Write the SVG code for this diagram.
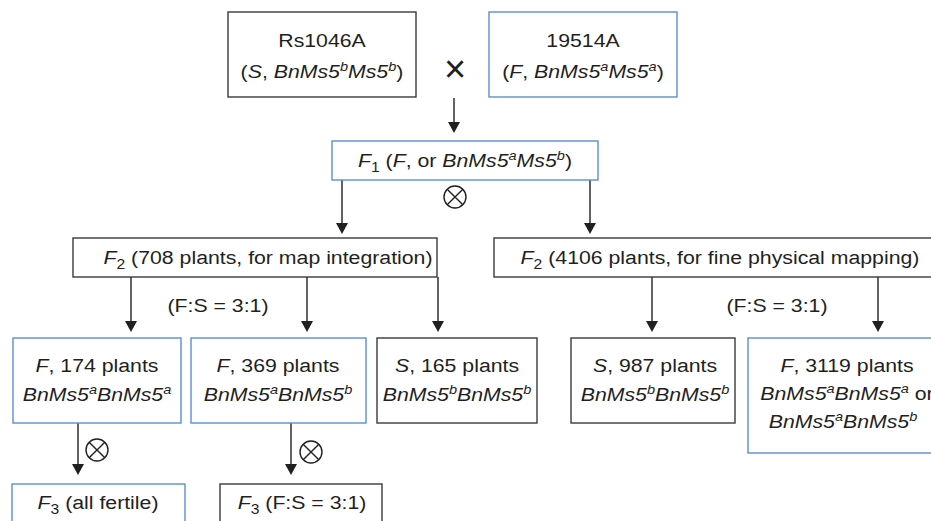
<svg xmlns="http://www.w3.org/2000/svg" width="931" height="521" viewBox="0 0 931 521">
<style>
.t{font-family:"Liberation Sans",Arial,Helvetica,sans-serif;font-size:19px;fill:#231f20;text-anchor:middle}
.i{font-style:italic}
.sp{font-size:13px}
.sb{font-size:14px}
.bx{fill:#fff;stroke:#3a3a3a;stroke-width:1.4}
.bl{fill:#fff;stroke:#5b8fcf;stroke-width:1.4}
.ln{stroke:#231f20;stroke-width:1.4;fill:none}
.ar{marker-end:url(#ah)}
</style>
<defs>
<marker id="ah" markerWidth="12" markerHeight="12" refX="9" refY="6" orient="auto" markerUnits="userSpaceOnUse"><path d="M0,0 L11,6 L0,12 Z" fill="#231f20"/></marker>
<g id="ox"><circle cx="0" cy="0" r="11" class="ln"/><path class="ln" d="M-7.8,-7.8 L7.8,7.8 M-7.8,7.8 L7.8,-7.8"/></g>
</defs>
<rect width="931" height="521" fill="#fff"/>

<g id="connectors">
<path class="ln ar" d="M454,98 V131"/>
<path class="ln ar" d="M342,180 V232"/>
<path class="ln ar" d="M590,180 V232"/>
<path class="ln ar" d="M131,277 V330"/>
<path class="ln ar" d="M307,277 V330"/>
<path class="ln ar" d="M438,277 V330"/>
<path class="ln ar" d="M652,277 V330"/>
<path class="ln ar" d="M878,277 V330"/>
<path class="ln ar" d="M78,423 V473"/>
<path class="ln ar" d="M291,423 V473"/>
<use href="#ox" x="455" y="197"/>
<use href="#ox" x="97" y="450"/>
<use href="#ox" x="311" y="452"/>
<text class="t" transform="translate(218,312) scale(1.12,1)">(F:S = 3:1)</text>
<text class="t" transform="translate(777,312) scale(1.12,1)">(F:S = 3:1)</text>
</g>

<g id="rs1046a">
<rect class="bx" x="228" y="12" width="188" height="85"/>
<text class="t" transform="translate(322,47) scale(1.12,1)">Rs1046A</text>
<text class="t" transform="translate(322,78) scale(1.12,1)">(<tspan class="i">S</tspan>, <tspan class="i">BnMs5</tspan><tspan class="i sp" dy="-7">b</tspan><tspan class="i" dy="7">Ms5</tspan><tspan class="i sp" dy="-7">b</tspan><tspan dy="7">)</tspan></text>
</g>

<text id="cross" class="t" style="font-size:38px" x="455" y="82">×</text>

<g id="n19514a">
<rect class="bl" x="489" y="12" width="188" height="85"/>
<text class="t" transform="translate(583,47) scale(1.12,1)">19514A</text>
<text class="t" transform="translate(583,78) scale(1.12,1)">(<tspan class="i">F</tspan>, <tspan class="i">BnMs5</tspan><tspan class="i sp" dy="-7">a</tspan><tspan class="i" dy="7">Ms5</tspan><tspan class="i sp" dy="-7">a</tspan><tspan dy="7">)</tspan></text>
</g>

<g id="f1">
<rect class="bl" x="332" y="141" width="266" height="39"/>
<text class="t" transform="translate(465,167) scale(1.12,1)"><tspan class="i">F</tspan><tspan class="sb" dy="5">1</tspan><tspan dy="-5"> (</tspan><tspan class="i">F</tspan>, or <tspan class="i">BnMs5</tspan><tspan class="i sp" dy="-7">a</tspan><tspan class="i" dy="7">Ms5</tspan><tspan class="i sp" dy="-7">b</tspan><tspan dy="7">)</tspan></text>
</g>

<g id="f2_map">
<rect class="bx" x="73" y="238" width="364" height="39"/>
<text class="t" transform="translate(268,264) scale(1.12,1)"><tspan class="i">F</tspan><tspan class="sb" dy="5">2</tspan><tspan dy="-5"> (708 plants, for map integration)</tspan></text>
</g>

<g id="f2_fine">
<rect class="bx" x="494" y="238" width="452" height="39"/>
<text class="t" transform="translate(720,264) scale(1.12,1)"><tspan class="i">F</tspan><tspan class="sb" dy="5">2</tspan><tspan dy="-5"> (4106 plants, for fine physical mapping)</tspan></text>
</g>

<g id="f174">
<rect class="bl" x="13" y="338" width="168" height="85"/>
<text class="t" transform="translate(97,372) scale(1.12,1)"><tspan class="i">F</tspan>, 174 plants</text>
<text class="t i" transform="translate(97,401) scale(1.12,1)">BnMs5<tspan class="sp" dy="-7">a</tspan><tspan dy="7">BnMs5</tspan><tspan class="sp" dy="-7">a</tspan></text>
</g>

<g id="f369">
<rect class="bl" x="191" y="338" width="175" height="85"/>
<text class="t" transform="translate(278,372) scale(1.12,1)"><tspan class="i">F</tspan>, 369 plants</text>
<text class="t i" transform="translate(278,401) scale(1.12,1)">BnMs5<tspan class="sp" dy="-7">a</tspan><tspan dy="7">BnMs5</tspan><tspan class="sp" dy="-7">b</tspan></text>
</g>

<g id="s165">
<rect class="bx" x="377" y="338" width="160" height="85"/>
<text class="t" transform="translate(457,372) scale(1.12,1)"><tspan class="i">S</tspan>, 165 plants</text>
<text class="t i" transform="translate(457,401) scale(1.12,1)">BnMs5<tspan class="sp" dy="-7">b</tspan><tspan dy="7">BnMs5</tspan><tspan class="sp" dy="-7">b</tspan></text>
</g>

<g id="s987">
<rect class="bx" x="571" y="338" width="164" height="85"/>
<text class="t" transform="translate(655,372) scale(1.12,1)"><tspan class="i">S</tspan>, 987 plants</text>
<text class="t i" transform="translate(655,401) scale(1.12,1)">BnMs5<tspan class="sp" dy="-7">b</tspan><tspan dy="7">BnMs5</tspan><tspan class="sp" dy="-7">b</tspan></text>
</g>

<g id="f3119">
<rect class="bl" x="748" y="338" width="198" height="115"/>
<text class="t" transform="translate(847,372) scale(1.12,1)"><tspan class="i">F</tspan>, 3119 plants</text>
<text class="t" transform="translate(847,400) scale(1.12,1)"><tspan class="i">BnMs5</tspan><tspan class="i sp" dy="-7">a</tspan><tspan class="i" dy="7">BnMs5</tspan><tspan class="i sp" dy="-7">a</tspan><tspan dy="7"> or</tspan></text>
<text class="t i" transform="translate(843,428) scale(1.12,1)">BnMs5<tspan class="sp" dy="-7">a</tspan><tspan dy="7">BnMs5</tspan><tspan class="sp" dy="-7">b</tspan></text>
</g>

<g id="f3_all">
<rect class="bl" x="12" y="484" width="173" height="50"/>
<text class="t" transform="translate(98,509) scale(1.12,1)"><tspan class="i">F</tspan><tspan class="sb" dy="5">3</tspan><tspan dy="-5"> (all fertile)</tspan></text>
</g>

<g id="f3_ratio">
<rect class="bx" x="220" y="484" width="162" height="50"/>
<text class="t" transform="translate(302,509) scale(1.12,1)"><tspan class="i">F</tspan><tspan class="sb" dy="5">3</tspan><tspan dy="-5"> (F:S = 3:1)</tspan></text>
</g>
</svg>
